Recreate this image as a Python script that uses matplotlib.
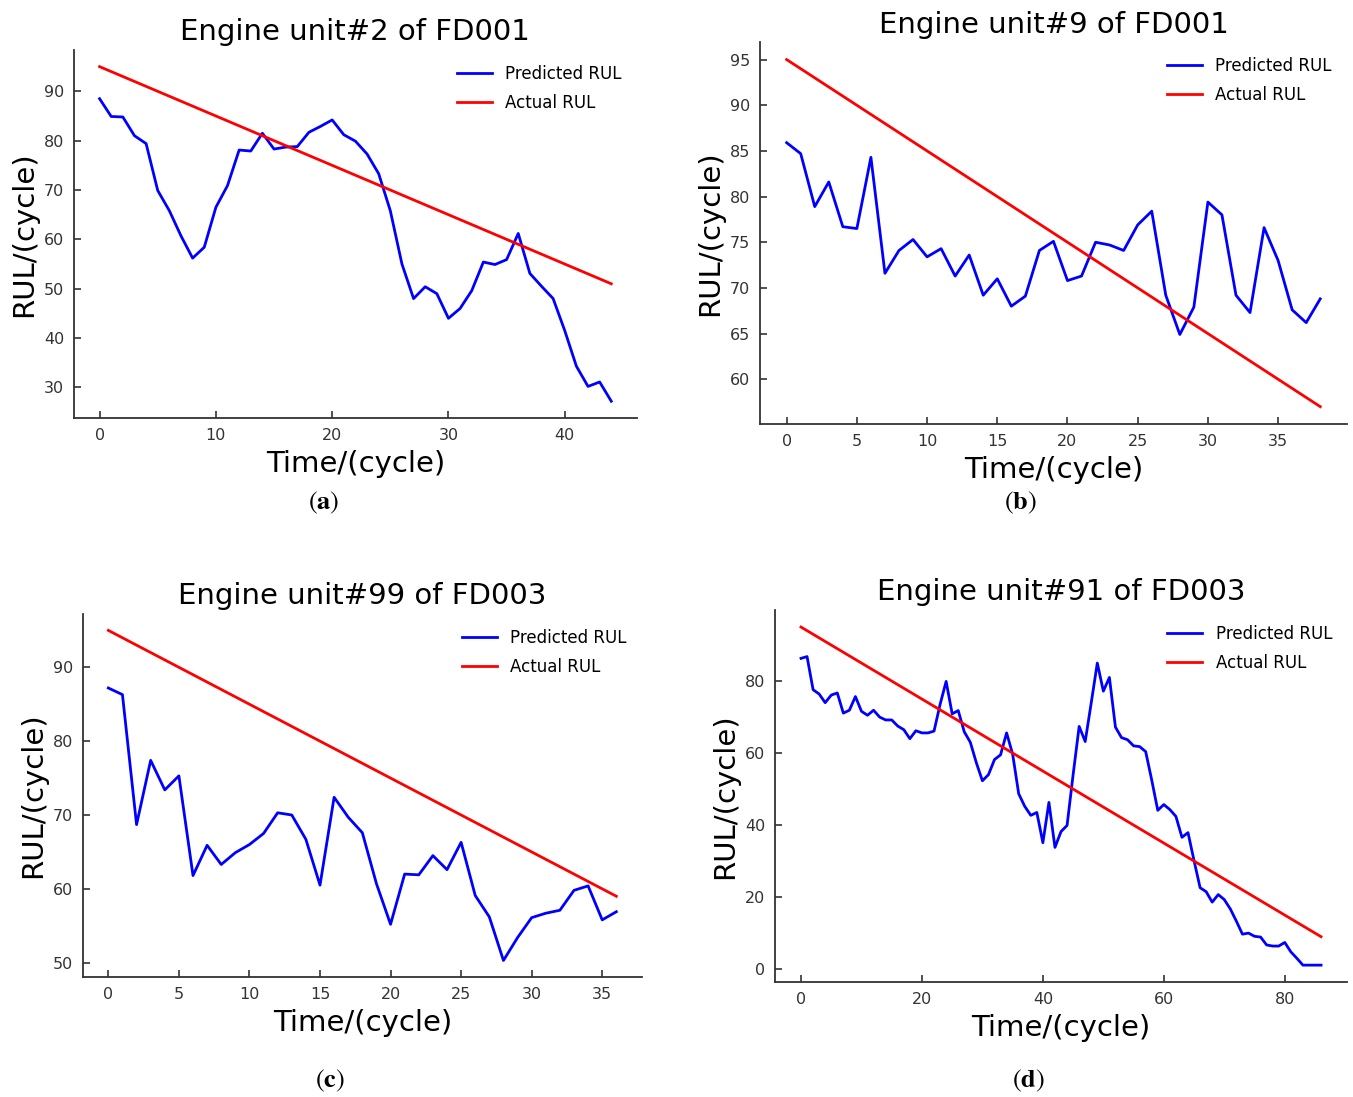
import matplotlib
matplotlib.use("Agg")
import matplotlib.pyplot as plt
from matplotlib.ticker import MultipleLocator
import numpy as np

plt.rcParams['mathtext.fontset'] = 'stix'

# panel (a): engine unit 2 of FD001
pred_a = [88.5, 84.9, 84.8, 81.0, 79.4, 69.9, 65.8, 60.7, 56.2, 58.4,
          66.5, 70.9, 78.1, 77.9, 81.5, 78.3, 78.7, 78.8, 81.7, 82.9,
          84.2, 81.2, 79.9, 77.3, 73.3, 65.8, 55.0, 48.0, 50.4, 49.0,
          44.0, 46.0, 49.6, 55.4, 54.9, 55.9, 61.2, 53.1, 50.5, 48.0,
          41.5, 34.3, 30.2, 31.1, 27.2]
# panel (b): engine unit 9 of FD001
pred_b = [85.9, 84.7, 78.9, 81.6, 76.7, 76.5, 84.3, 71.6, 74.1, 75.3,
          73.4, 74.3, 71.3, 73.6, 69.2, 71.0, 68.0, 69.1, 74.1, 75.1,
          70.8, 71.3, 75.0, 74.7, 74.1, 76.9, 78.4, 69.2, 64.9, 67.9,
          79.4, 78.0, 69.2, 67.3, 76.6, 73.0, 67.6, 66.2, 68.8]
# panel (c): engine unit 99 of FD003
pred_c = [87.2, 86.3, 68.7, 77.4, 73.4, 75.3, 61.8, 65.9, 63.3, 64.9,
          66.0, 67.5, 70.3, 70.0, 66.7, 60.5, 72.4, 69.7, 67.6, 60.7,
          55.2, 62.0, 61.9, 64.5, 62.6, 66.3, 59.1, 56.2, 50.3, 53.4,
          56.1, 56.7, 57.1, 59.8, 60.4, 55.8, 56.9]
# panel (d): engine unit 91 of FD003
pred_d = [86.3, 86.8, 77.6, 76.4, 74.0, 76.1, 76.7, 71.1, 71.9, 75.7,
          71.6, 70.5, 71.9, 70.0, 69.2, 69.2, 67.5, 66.5, 64.0, 66.2,
          65.6, 65.6, 66.1, 73.5, 79.9, 70.9, 71.8, 65.9, 63.0, 57.3,
          52.3, 54.0, 58.2, 59.5, 65.6, 59.7, 48.7, 45.2, 42.7, 43.5,
          35.1, 46.3, 33.8, 38.2, 39.9, 54.0, 67.4, 63.2, 74.0, 85.0,
          77.2, 81.0, 67.2, 64.3, 63.7, 62.0, 61.8, 60.4, 52.5, 44.1,
          45.7, 44.3, 42.4, 36.6, 37.9, 30.1, 22.6, 21.5, 18.6, 20.7,
          19.3, 16.7, 13.3, 9.7, 10.0, 9.1, 8.9, 6.7, 6.4, 6.4,
          7.4, 4.8, 3.0, 1.1, 1.1, 1.1, 1.1]

actual_start = 95
titles = ['Engine unit#2 of FD001', 'Engine unit#9 of FD001',
          'Engine unit#99 of FD003', 'Engine unit#91 of FD003']
captions = ['a', 'b', 'c', 'd']
x_steps = [10, 5, 5, 20]
y_steps = [10, 5, 10, 20]

fig = plt.figure(figsize=(13.53, 10.97), dpi=100)

# axes boxes in figure fraction
boxes = [[0.0547, 0.619, 0.416, 0.3355],
         [0.5617, 0.6135, 0.4338, 0.348],
         [0.0613, 0.1094, 0.413, 0.331],
         [0.5728, 0.1048, 0.4228, 0.339]]
caption_pos = [(0.239, 0.536), (0.754, 0.536), (0.244, 0.009), (0.760, 0.009)]

preds = [pred_a, pred_b, pred_c, pred_d]
spine_col = '#333333'

for k in range(4):
    ax = fig.add_axes(boxes[k])
    pred = np.array(preds[k])
    cyc = np.arange(len(pred))
    actual = actual_start - cyc
    ax.plot(cyc, pred, color='blue', lw=2, label='Predicted RUL')
    ax.plot(cyc, actual, color='red', lw=2, label='Actual RUL')

    ax.xaxis.set_major_locator(MultipleLocator(x_steps[k]))
    ax.yaxis.set_major_locator(MultipleLocator(y_steps[k]))
    ax.spines['top'].set_visible(False)
    ax.spines['right'].set_visible(False)
    for s in ['left', 'bottom']:
        ax.spines[s].set_color(spine_col)
        ax.spines[s].set_linewidth(1.3)
    ax.tick_params(direction='in', length=5, width=1.2, colors=spine_col,
                   labelsize=11.5, pad=7)

    ax.set_title(titles[k], fontsize=21, pad=7)
    ax.set_xlabel('Time/(cycle)', fontsize=21, labelpad=5)
    ax.set_ylabel('RUL/(cycle)', fontsize=21, labelpad=4)

    ax.legend(loc='upper right', frameon=False, fontsize=12,
              handlelength=2.1, labelspacing=0.65)

    fig.text(caption_pos[k][0], caption_pos[k][1],
             r'$(\mathbf{%s})$' % captions[k], fontsize=19, ha='center')

fig.savefig('out.png', dpi=100)
